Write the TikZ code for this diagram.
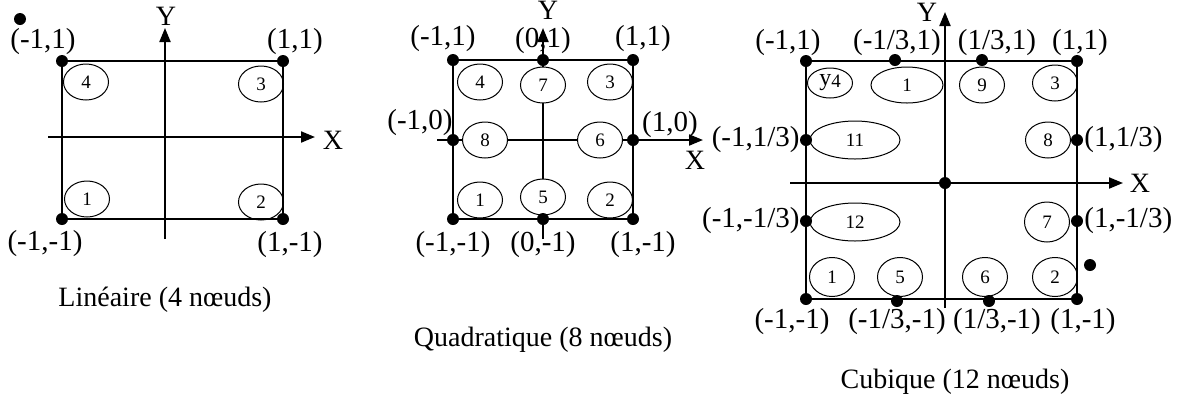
\documentclass[tikz,border=0pt]{standalone}
\usepackage{fontspec}
\setmainfont{Liberation Serif}
\usepackage{tikz}
\usetikzlibrary{shapes.geometric, arrows.meta}
\tikzset{
  dot/.style    = {circle, fill, inner sep=0pt, minimum size=6pt},
  elt/.style    = {ellipse, draw, fill=white, inner sep=0pt, line width=0.5pt,
                   minimum width=22.5pt, minimum height=18pt,
                   font=\fontsize{9.5}{10}\selectfont},
  wideelt/.style = {elt, minimum width=45pt, minimum height=19pt},
  frame/.style  = {line width=0.75pt},
  axis/.style   = {-{Triangle[length=7pt, width=5.5pt]}, line width=1pt},
  coord/.style  = {inner sep=0pt, font=\fontsize{14.5}{16}\selectfont},
  axlab/.style  = {inner sep=0pt, font=\fontsize{14}{15}\selectfont},
  caption/.style = {inner sep=0pt, font=\fontsize{14}{15}\selectfont},
}
\begin{document}
\begin{tikzpicture}[x=0.5pt, y=-0.5pt]
  \useasboundingbox (0,0) rectangle (1191,398);

  % lineaire
  \coordinate (lxa) at (48,137);
  \coordinate (lxb) at (315,137);
  \coordinate (lya) at (165,239);
  \coordinate (lyb) at (165,28);
  \draw[axis] (lxa) -- (lxb);
  \draw[axis] (lya) -- (lyb);
  \node[axlab] (lx) at (333,140) {X};
  \node[axlab] (ly) at (166,16) {Y};
  \node[elt] (le1) at (87,199) {1};
  \node[elt] (le2) at (261,202) {2};
  \node[elt] (le3) at (261,84) {3};
  \node[elt] (le4) at (86,82) {4};
  \node[dot] (l1) at (62,219) {};
  \node[dot] (l2) at (283,219) {};
  \node[dot] (l3) at (283,61) {};
  \node[dot] (l4) at (62,61) {};
  \node[dot] (ls) at (20,19) {};
  \draw[frame] (l1.center) -- (l2.center) -- (l3.center) -- (l4.center) -- cycle;
  \node[coord] (lt1) at (45,244) {(-1,-1)};
  \node[coord] (lt2) at (290,245) {(1,-1)};
  \node[coord] (lt3) at (295,42) {(1,1)};
  \node[coord] (lt4) at (43,42) {(-1,1)};
  \node[caption] (lcap) at (165,300) {Linéaire (4 nœuds)};

  % quadratique
  \node[coord] (mt1) at (453,245) {(-1,-1)};
  \node[coord] (mt2) at (643,245) {(1,-1)};
  \node[coord] (mt3) at (643,39) {(1,1)};
  \node[coord] (mt4) at (443,39) {(-1,1)};
  \node[coord] (mt5) at (543,245) {(0,-1)};
  \node[coord] (mt6) at (670,125) {(1,0)};
  \node[coord] (mt7) at (543,41) {(0,1)};
  \node[coord] (mt8) at (420,123) {(-1,0)};
  \coordinate (mxa) at (437,140);
  \coordinate (mxb) at (703,140);
  \coordinate (mya) at (543,239);
  \coordinate (myb) at (543,28);
  \draw[axis] (mxa) -- (mxb);
  \draw[axis] (mya) -- (myb);
  \node[axlab] (mx) at (695,160) {X};
  \node[axlab] (my) at (548,10) {Y};
  \node[elt] (me1) at (480,200) {1};
  \node[elt] (me2) at (610,200) {2};
  \node[elt] (me3) at (610,82) {3};
  \node[elt] (me4) at (480,82) {4};
  \node[elt] (me5) at (543,197) {5};
  \node[elt] (me6) at (600,140) {6};
  \node[elt] (me7) at (543,85) {7};
  \node[elt] (me8) at (485,140) {8};
  \node[dot] (m1) at (453,219) {};
  \node[dot] (m2) at (633,219) {};
  \node[dot] (m3) at (633,60) {};
  \node[dot] (m4) at (453,60) {};
  \node[dot] (m5) at (543,219) {};
  \node[dot] (m6) at (633,140) {};
  \node[dot] (m7) at (543,60) {};
  \node[dot] (m8) at (453,140) {};
  \draw[frame] (m1.center) -- (m2.center) -- (m3.center) -- (m4.center) -- cycle;
  \node[caption] (mcap) at (543,340) {Quadratique (8 nœuds)};

  % cubique
  \coordinate (cxa) at (790,183);
  \coordinate (cxb) at (1123,183);
  \coordinate (cya) at (945,308);
  \coordinate (cyb) at (945,12);
  \draw[axis] (cxa) -- (cxb);
  \draw[axis] (cya) -- (cyb);
  \node[axlab] (cx) at (1140,183) {X};
  \node[axlab] (cy) at (927,12) {Y};
  \node[elt, minimum height=15pt] (ce4) at (830,83) {\fontsize{12}{12}\selectfont y\raisebox{-1pt}{\fontsize{9.5}{10}\selectfont 4}};
  \node[elt, minimum width=36pt] (ce10) at (907,85) {1};
  \node[elt] (ce9) at (982,85) {9};
  \node[elt] (ce3) at (1055,83) {3};
  \node[wideelt] (ce11) at (855,140) {11};
  \node[elt] (ce8) at (1048,140) {8};
  \node[wideelt] (ce12) at (855,222) {12};
  \node[elt, minimum height=20pt] (ce7) at (1047,222) {7};
  \node[elt, minimum height=19.5pt] (ce1) at (832,277) {1};
  \node[elt, minimum height=19.5pt] (ce5) at (900,277) {5};
  \node[elt, minimum height=19.5pt] (ce6) at (985,277) {6};
  \node[elt, minimum height=19.5pt] (ce2) at (1055,277) {2};
  \node[dot] (c1) at (806,299) {};
  \node[dot] (c2) at (1077,299) {};
  \node[dot] (c3) at (1077,61) {};
  \node[dot] (c4) at (806,61) {};
  \node[dot] (c5) at (897,301) {};
  \node[dot] (c6) at (989,301) {};
  \node[dot] (c7) at (1077,221) {};
  \node[dot] (c8) at (1077,140) {};
  \node[dot] (c9) at (982,60) {};
  \node[dot] (c10) at (895,60) {};
  \node[dot] (c11) at (806,140) {};
  \node[dot] (c12) at (806,221) {};
  \node[dot] (c0) at (945,183) {};
  \node[dot] (cs) at (1090,265) {};
  \draw[frame] (c1.center) -- (c2.center) -- (c3.center) -- (c4.center) -- cycle;
  \node[coord] (ct4) at (788,43) {(-1,1)};
  \node[coord] (ct10) at (897,43) {(-1/3,1)};
  \node[coord] (ct9) at (997,43) {(1/3,1)};
  \node[coord] (ct3) at (1080,43) {(1,1)};
  \node[coord, anchor=east] (ct11) at (800,140) {(-1,1/3)};
  \node[coord, anchor=east] (ct12) at (800,221) {(-1,-1/3)};
  \node[coord, anchor=west] (ct8) at (1084,140) {(1,1/3)};
  \node[coord, anchor=west] (ct7) at (1084,221) {(1,-1/3)};
  \node[coord] (ct1) at (792,322) {(-1,-1)};
  \node[coord] (ct5) at (897,322) {(-1/3,-1)};
  \node[coord] (ct6) at (997,322) {(1/3,-1)};
  \node[coord] (ct2) at (1083,322) {(1,-1)};
  \node[caption] (ccap) at (955,382) {Cubique (12 nœuds)};
\end{tikzpicture}
\end{document}
